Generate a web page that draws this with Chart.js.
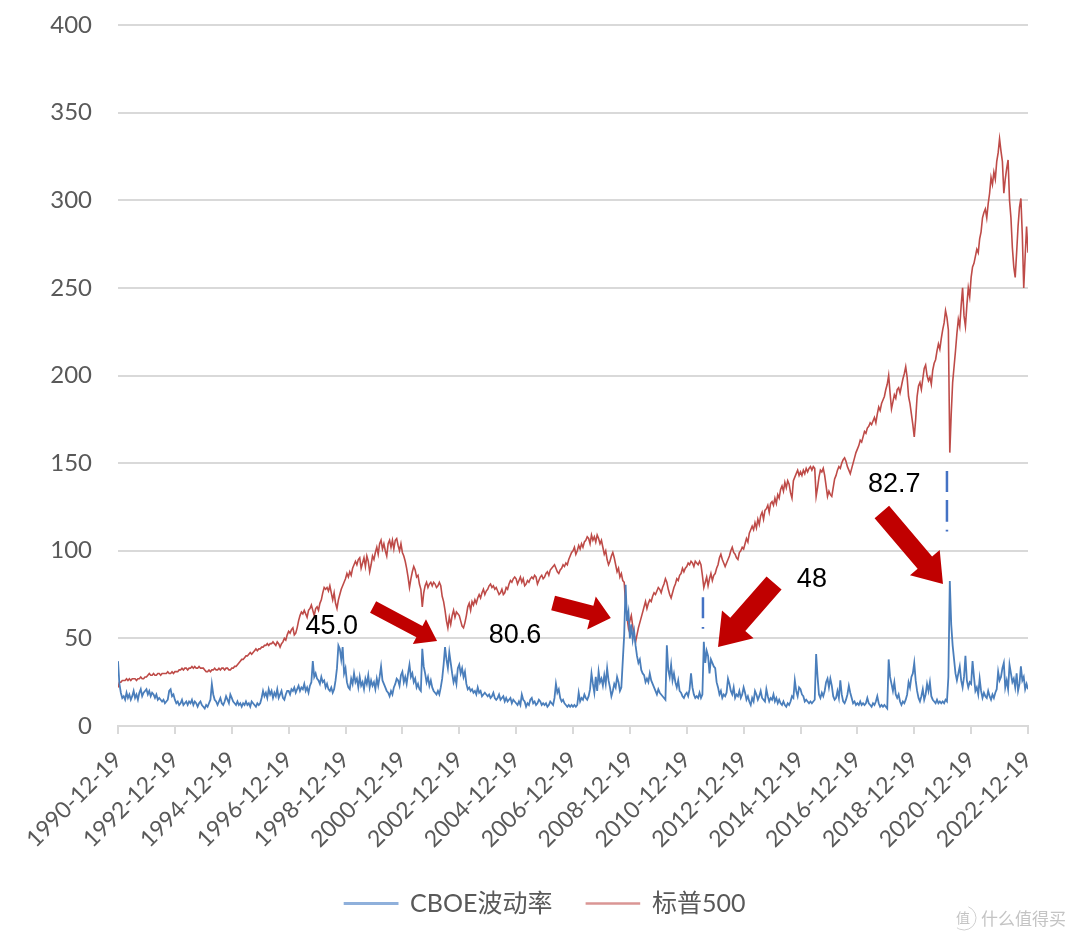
<!DOCTYPE html>
<html>
<head>
<meta charset="utf-8">
<title>CBOE波动率 标普500</title>
<script src="https://cdn.jsdelivr.net/npm/chart.js@4"></script>
<style>
  html, body { margin: 0; padding: 0; background: #fff; }
  #myChart { display: block; filter: blur(0.5px); }
</style>
</head>
<body>
<canvas id="myChart" width="1080" height="941"></canvas>
<script>
const tickLabels = ["1990-12-19", "1992-12-19", "1994-12-19", "1996-12-19", "1998-12-19", "2000-12-19",
  "2002-12-19", "2004-12-19", "2006-12-19", "2008-12-19", "2010-12-19", "2012-12-19", "2014-12-19",
  "2016-12-19", "2018-12-19", "2020-12-19", "2022-12-19"];

// one reading every twentieth of a year, one row per year
const cboeValues = [
  37, 24, 19, 16, 17, 15, 19, 16, 18, 15, 17, 20, 16, 18, 15, 19, 21, 17, 19, 20,
  21, 18, 20, 17, 19, 18, 16, 18, 15, 16, 15, 14, 15, 13, 14, 15, 20, 21, 17, 18,
  15, 13, 14, 12, 13, 15, 12, 13, 14, 12, 14, 13, 15, 12, 14, 13, 11, 13, 14, 12,
  11, 10, 12, 11, 13, 15, 24, 18, 15, 14, 12, 14, 16, 13, 12, 14, 17, 15, 13, 18,
  16, 14, 13, 12, 14, 12, 13, 11, 13, 12, 14, 12, 13, 11, 14, 13, 12, 11, 13, 12,
  13, 16, 20, 17, 19, 16, 21, 18, 20, 16, 19, 17, 21, 16, 18, 20, 16, 15, 18, 20,
  20, 18, 21, 20, 22, 19, 21, 23, 20, 22, 21, 24, 20, 22, 19, 23, 25, 37, 28, 30,
  27, 26, 24, 28, 25, 26, 22, 24, 21, 20, 22, 19, 21, 26, 33, 46, 44, 38, 45, 30,
  33, 25, 22, 21, 27, 24, 30, 25, 27, 22, 28, 23, 25, 21, 27, 24, 29, 22, 26, 23,
  25, 21, 27, 23, 28, 34, 26, 24, 22, 20, 19, 17, 20, 18, 22, 24, 27, 26, 23, 29,
  31, 25, 28, 24, 30, 35, 28, 30, 25, 27, 22, 24, 21, 20, 44, 34, 30, 25, 28, 23,
  26, 22, 20, 19, 18, 20, 18, 22, 27, 35, 45, 38, 33, 42, 36, 30, 25, 28, 24, 33,
  35, 30, 33, 28, 31, 24, 21, 22, 20, 21, 19, 20, 18, 22, 19, 20, 17, 18, 19, 18,
  17, 18, 16, 17, 19, 16, 15, 16, 18, 15, 16, 17, 14, 16, 14, 15, 16, 13, 15, 14,
  13, 12, 14, 12, 18, 15, 14, 11, 13, 12, 15, 16, 13, 14, 12, 13, 15, 14, 12, 13,
  12, 13, 11, 12, 14, 13, 12, 16, 24, 19, 21, 16, 14, 15, 13, 12, 11, 12, 11, 12,
  11, 12, 11, 12, 19, 14, 16, 15, 18, 16, 15, 17, 21, 30, 24, 19, 28, 20, 31, 25,
  27, 23, 29, 24, 33, 26, 22, 17, 20, 24, 22, 28, 25, 20, 22, 37, 52, 80.6, 60, 65,
  50, 58, 49, 54, 46, 40, 36, 38, 32, 30, 29, 25, 27, 25, 30, 26, 24, 22, 20, 18,
  21, 19, 18, 17, 16, 15, 46, 32, 28, 35, 26, 30, 25, 22, 26, 20, 19, 17, 16, 18,
  19, 17, 21, 30, 22, 18, 16, 17, 16, 19, 16, 18, 48, 36, 43, 40, 30, 38, 36, 34,
  33, 25, 22, 18, 20, 16, 18, 17, 19, 27, 24, 20, 18, 22, 16, 18, 17, 20, 16, 18,
  22, 19, 15, 17, 14, 12, 16, 14, 20, 18, 15, 17, 20, 16, 15, 14, 21, 17, 14, 16,
  15, 18, 14, 16, 13, 15, 13, 12, 14, 12, 11, 13, 12, 14, 17, 16, 26, 20, 17, 22,
  21, 18, 17, 14, 15, 14, 13, 14, 13, 14, 15, 41, 28, 18, 16, 19, 17, 20, 25, 27,
  22, 27, 23, 17, 15, 16, 20, 16, 26, 18, 14, 13, 15, 18, 23, 19, 16, 13, 14, 12,
  13, 12, 14, 12, 13, 12, 13, 16, 13, 12, 11, 13, 12, 14, 17, 13, 11, 12, 11, 12,
  11, 10, 38, 28, 24, 20, 25, 18, 16, 18, 14, 12, 14, 13, 15, 18, 25, 22, 28, 30,
  36, 26, 20, 16, 14, 17, 21, 15, 18, 24, 20, 25, 17, 15, 14, 13, 15, 13, 14, 13,
  14, 13, 15, 14, 28, 82.7, 58, 46, 38, 30, 26, 30, 34, 26, 22, 28, 40, 26, 22, 25,
  24, 37, 28, 20, 22, 18, 27, 20, 16, 19, 17, 16, 20, 17, 15, 18, 16, 19, 21, 31,
  26, 28, 33, 36, 22, 26, 21, 35, 30, 25, 27, 22, 30, 20, 24, 34, 26, 28, 21, 24,
  21
];
const sp500Values = [
  22, 25, 25, 26, 26, 26, 27, 26, 27, 26, 27, 27, 27, 26, 27, 27, 28, 27, 27, 28,
  28, 29, 30, 29, 29, 30, 29, 29, 30, 30, 29, 30, 30, 30, 30, 31, 30, 30, 31, 30,
  31, 31, 31, 32, 32, 33, 32, 33, 33, 32, 33, 33, 34, 33, 34, 33, 33, 34, 33, 33,
  33, 32, 31, 31, 32, 31, 32, 32, 33, 32, 32, 33, 32, 33, 33, 32, 33, 33, 32, 32,
  33, 33, 34, 34, 35, 36, 37, 38, 38, 39, 40, 40, 41, 42, 41, 42, 43, 44, 43, 44,
  44, 45, 45, 46, 46, 47, 46, 47, 47, 48, 47, 46, 48, 47, 45, 47, 48, 50, 49, 52,
  54, 53, 55, 56, 52, 53, 56, 60, 63, 65, 64, 66, 64, 62, 66, 67, 69, 66, 63, 67,
  68, 66, 70, 72, 76, 79, 78, 79, 77, 80, 76, 72, 76, 70, 67, 72, 75, 78, 80, 82,
  84, 87, 85, 88, 86, 90, 92, 94, 92, 95, 96, 90, 93, 96, 91, 97, 94, 88, 92, 97,
  95, 99, 102, 98, 104, 106, 101, 104, 100, 97, 104, 106, 102, 106, 101, 106, 107, 103, 100, 104,
  99, 97, 94, 90, 85, 79, 84, 88, 91, 89, 85, 86, 81, 78, 68, 76, 80, 82, 79, 81,
  82, 80, 82, 81, 79, 80, 82, 80, 74, 71, 66, 60, 56, 62, 58, 63, 66, 62, 65, 64,
  63, 60, 57, 56, 59, 63, 68, 70, 66, 71, 69, 72, 70, 73, 75, 73, 76, 78, 75, 77,
  78, 80, 81, 79, 80, 78, 79, 77, 75, 76, 78, 75, 76, 79, 78, 81, 83, 82, 84, 85,
  84, 81, 83, 85, 82, 84, 80, 81, 83, 82, 84, 85, 84, 86, 85, 81, 83, 85, 86, 84,
  85, 87, 88, 86, 89, 90, 91, 92, 90, 88, 87, 89, 90, 92, 91, 93, 92, 95, 97, 99,
  100, 102, 98, 100, 103, 101, 104, 102, 105, 106, 108, 107, 104, 109, 106, 108, 105, 109, 107, 104,
  106, 102, 98, 100, 95, 92, 94, 97, 99, 96, 92, 88, 90, 85, 87, 83, 82, 70, 62, 56,
  60, 63, 57, 52, 48, 52, 56, 59, 62, 65, 68, 71, 67, 70, 72, 71, 74, 76, 75, 77,
  79, 78, 76, 79, 81, 84, 82, 78, 75, 73, 76, 79, 81, 84, 83, 86, 87, 90, 88, 90,
  91, 93, 92, 94, 93, 91, 94, 93, 92, 94, 92, 86, 79, 82, 85, 80, 84, 87, 83, 86,
  87, 90, 92, 96, 98, 95, 93, 91, 93, 95, 97, 100, 102, 99, 98, 96, 95, 99, 100, 102,
  101, 104, 107, 105, 110, 112, 114, 112, 116, 113, 118, 115, 120, 122, 118, 123, 124, 126, 122, 127,
  128, 126, 130, 127, 132, 130, 135, 137, 134, 139, 136, 140, 138, 133, 130, 140, 142, 144, 146, 143,
  145, 143, 146, 144, 147, 145, 147, 148, 146, 148, 147, 131, 136, 142, 146, 145, 147, 143, 137, 131,
  134, 132, 131, 136, 141, 143, 146, 148, 147, 150, 152, 153, 151, 148, 146, 144, 147, 150, 153, 156,
  158, 160, 163, 162, 165, 168, 167, 170, 171, 173, 172, 174, 176, 173, 178, 182, 180, 184, 186, 188,
  192, 195, 200, 190, 181, 185, 189, 187, 192, 193, 190, 194, 198, 201, 205, 199, 188, 184, 178, 172,
  165, 175, 188, 194, 196, 192, 198, 204, 206, 200, 197, 199, 195, 203, 207, 209, 214, 218, 215, 221,
  226, 230, 237, 233, 226, 156, 178, 196, 205, 214, 224, 232, 228, 240, 250, 234, 228, 240, 250, 245,
  256, 262, 264, 268, 272, 270, 278, 282, 290, 293, 295, 290, 298, 304, 313, 309, 316, 312, 322, 327,
  335, 328, 322, 304, 312, 318, 323, 300, 290, 273, 262, 256, 270, 285, 296, 301, 280, 250, 268, 285,
  270
];
const sampleYears = cboeValues.map((v, i) => i / 20);

// broken blue fragments above the 2011 and 2020 spikes
const fragmentYears = [20.57, 20.57, 20.57, 20.57, 20.57, 20.57, 29.15, 29.15, 29.15, 29.15, 29.15, 29.15, 29.15, 29.15];
const fragmentValues = [73.5, 61.5, null, 56.5, 55.5, null, 145.5, 133.5, null, 129, 116.5, null, 112, 111];

const yTicks = [0, 50, 100, 150, 200, 250, 300, 350, 400];

const arrowNames = ["45.0", "80.6", "48", "82.7"];
const arrowFrom = [[8.97, 67.9], [15.3, 70.2], [23.07, 81.6], [26.86, 122.1]];
const arrowTo = [[11.22, 48.5], [17.33, 61.6], [21.1, 45.1], [29.01, 81]];
const arrowSizes = [[13, 28, 20], [15, 34, 20], [20, 42, 30], [19, 39, 28]];
const labelAt = [[7.52, 56.5], [13.96, 51.4], [24.4, 83.5], [27.3, 138]];

const annotations = {
  id: 'annotations',
  afterLayout(chart) {
    // legend sits centred on the whole picture, a bit right of the plot centre
    chart.legend.left += 31;
    chart.legend.right += 31;
    chart.legend.top -= 15;
    chart.legend.bottom -= 15;
  },
  afterDatasetsDraw(chart) {
    const { ctx, scales } = chart;
    const px = p => [scales.x.getPixelForValue(p[0]), scales.y.getPixelForValue(p[1])];
    ctx.save();
    ctx.fillStyle = '#c00000';
    arrowFrom.forEach((from, i) => {
      const [x0, y0] = px(from);
      const [x1, y1] = px(arrowTo[i]);
      const [shaft, head, headLen] = arrowSizes[i];
      const len = Math.hypot(x1 - x0, y1 - y0);
      ctx.save();
      ctx.translate(x0, y0);
      ctx.rotate(Math.atan2(y1 - y0, x1 - x0));
      ctx.beginPath();
      ctx.moveTo(0, -shaft / 2);
      ctx.lineTo(len - headLen, -shaft / 2);
      ctx.lineTo(len - headLen, -head / 2);
      ctx.lineTo(len, 0);
      ctx.lineTo(len - headLen, head / 2);
      ctx.lineTo(len - headLen, shaft / 2);
      ctx.lineTo(0, shaft / 2);
      ctx.closePath();
      ctx.fill();
      ctx.restore();
    });
    ctx.fillStyle = '#000';
    ctx.font = '27px "Liberation Sans"';
    ctx.textAlign = 'center';
    ctx.textBaseline = 'middle';
    arrowNames.forEach((name, i) => {
      const [x, y] = px(labelAt[i]);
      ctx.fillText(name, x, y);
    });
    // site watermark, bottom right corner
    ctx.fillStyle = '#c4c4c4';
    ctx.font = '17px "Noto Sans CJK SC"';
    ctx.textAlign = 'left';
    ctx.fillText('什么值得买', 981, 919);
    ctx.font = '14px "Noto Sans CJK SC"';
    ctx.textAlign = 'center';
    ctx.fillText('值', 963, 918);
    ctx.strokeStyle = '#d0d0d0';
    ctx.lineWidth = 1;
    ctx.beginPath();
    ctx.arc(964, 918, 12, -1.2, 2.2);
    ctx.stroke();
    ctx.restore();
  }
};

new Chart(document.getElementById('myChart'), {
  type: 'line',
  plugins: [annotations],
  data: {
    datasets: [{
      label: 'CBOE波动率',
      data: sampleYears.map((t, i) => ({ x: t, y: cboeValues[i] })),
      borderColor: '#4a7ebb',
      backgroundColor: '#8fb0db',
      borderWidth: 1.8,
      pointRadius: 0,
      tension: 0
    }, {
      label: '标普500',
      data: sampleYears.map((t, i) => ({ x: t, y: sp500Values[i] })),
      borderColor: '#be4b48',
      backgroundColor: '#da9694',
      borderWidth: 1.6,
      pointRadius: 0,
      tension: 0
    }, {
      label: 'fragments',
      data: fragmentYears.map((t, i) => ({ x: t, y: fragmentValues[i] })),
      borderColor: '#4472c4',
      borderWidth: 2.5,
      pointRadius: 0,
      spanGaps: false
    }]
  },
  options: {
    responsive: false,
    animation: false,
    devicePixelRatio: 1,
    layout: { padding: { top: 25, right: 52, bottom: 0, left: 0 } },
    scales: {
      x: {
        type: 'linear',
        min: 0,
        max: 32,
        afterBuildTicks(axis) {
          axis.ticks = tickLabels.map((l, i) => ({ value: i * 2 }));
        },
        afterFit(axis) { axis.height = 146; },
        grid: { drawOnChartArea: false, color: '#d9d9d9', lineWidth: 2, tickLength: 8 },
        border: { color: '#d9d9d9', width: 2 },
        ticks: {
          autoSkip: false,
          maxRotation: 45,
          minRotation: 45,
          padding: 12,
          color: '#595959',
          font: { family: 'Lato', size: 23 },
          callback: (v) => tickLabels[v / 2]
        }
      },
      y: {
        min: 0,
        max: 400,
        afterBuildTicks(axis) {
          axis.ticks = yTicks.map(v => ({ value: v }));
        },
        afterFit(axis) {
          axis.width = 118;
          axis.paddingTop = 0;
          axis.paddingBottom = 0;
        },
        grid: { color: '#d9d9d9', lineWidth: 2, drawTicks: false },
        border: { display: false },
        ticks: {
          padding: 26,
          color: '#595959',
          font: { family: 'Lato', size: 24 }
        }
      }
    },
    plugins: {
      tooltip: { enabled: false },
      title: { display: false },
      legend: {
        position: 'bottom',
        labels: {
          boxWidth: 53,
          boxHeight: 1,
          padding: 34,
          color: '#595959',
          font: { family: 'Lato, "Noto Sans CJK SC"', size: 25 },
          filter: item => {
            item.strokeStyle = item.fillStyle;
            return item.text !== 'fragments';
          }
        }
      }
    }
  }
});
</script>
</body>
</html>
